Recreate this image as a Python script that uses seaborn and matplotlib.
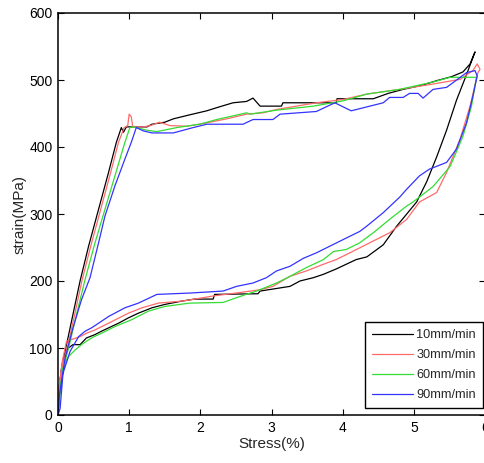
import numpy as np
import pandas as pd
import matplotlib
matplotlib.use("Agg")
import matplotlib.pyplot as plt
import seaborn as sns

series_names = ["10mm/min", "30mm/min", "60mm/min", "90mm/min"]
series_colors = ["#000000", "#ff6a6a", "#33dd33", "#3333ff"]

x_10 = [0, 0.01, 0.05, 0.12, 0.2, 0.31, 0.43, 0.57, 0.71, 0.82, 0.89, 0.92, 0.96, 1.25, 1.32, 1.50, 1.62, 1.85, 2.09, 2.27, 2.46, 2.65, 2.74, 2.84, 3.14, 3.16, 3.91, 3.92, 4.43, 4.64, 4.85, 5.11, 5.32, 5.53, 5.69, 5.79, 5.86,
        5.74, 5.60, 5.46, 5.32, 5.18, 5.04, 4.90, 4.76, 4.57, 4.34, 4.19, 4.05, 3.91, 3.73, 3.59, 3.40, 3.26, 2.84, 2.81, 2.20, 2.18, 1.92, 1.74, 1.50, 1.32, 1.13, 0.99, 0.85, 0.71, 0.61, 0.52, 0.40, 0.31, 0.21, 0.145, 0.07, 0.02, 0]
y_10 = [0, 35, 70, 105, 145, 200, 252, 307, 362, 407, 429, 422, 430, 430, 434, 437, 442, 448, 454, 460, 466, 468, 473, 461, 461, 466, 466, 472, 472, 480, 486, 492, 499, 505, 512, 524, 542,
        508, 470, 425, 385, 348, 318, 300, 282, 254, 236, 232, 225, 218, 210, 205, 200, 192, 185, 181, 180, 173, 173, 170, 165, 160, 152, 145, 137, 130, 125, 120, 115, 105, 105, 100, 82, 45, 0]

x_30 = [0, 0.01, 0.06, 0.14, 0.23, 0.34, 0.46, 0.60, 0.74, 0.85, 0.93, 0.98, 1.00, 1.03, 1.05, 1.20, 1.30, 1.43, 1.57, 1.81, 2.04, 2.37, 2.65, 2.88, 3.07, 3.63, 4.01, 4.34, 4.80, 5.27, 5.65, 5.83, 5.89, 5.93,
        5.90, 5.79, 5.65, 5.46, 5.32, 5.08, 4.90, 4.66, 4.38, 4.10, 3.91, 3.73, 3.49, 3.26, 3.02, 2.84, 2.50, 2.20, 1.92, 1.74, 1.41, 1.18, 0.99, 0.71, 0.52, 0.40, 0.31, 0.17, 0.12, 0.06, 0.02, 0]
y_30 = [0, 40, 72, 105, 148, 202, 252, 307, 362, 407, 429, 432, 449, 445, 430, 430, 432, 437, 432, 431, 435, 442, 449, 451, 456, 466, 471, 479, 486, 494, 501, 514, 524, 516,
        511, 461, 412, 362, 332, 318, 292, 272, 257, 242, 232, 225, 215, 207, 192, 187, 182, 178, 173, 170, 167, 160, 152, 137, 127, 122, 117, 112, 110, 80, 45, 0]

x_60 = [0, 0.02, 0.08, 0.16, 0.26, 0.38, 0.52, 0.66, 0.80, 0.94, 1.01, 1.06, 1.25, 1.39, 1.67, 1.99, 2.23, 2.65, 2.70, 3.07, 3.59, 4.01, 4.34, 4.80, 5.27, 5.51, 5.88,
        5.81, 5.69, 5.51, 5.27, 4.99, 4.90, 4.66, 4.43, 4.24, 4.05, 3.87, 3.73, 3.49, 3.26, 3.07, 2.79, 2.56, 2.32, 1.85, 1.50, 1.27, 1.03, 0.80, 0.61, 0.47, 0.33, 0.24, 0.145, 0.07, 0.03, 0]
y_60 = [0, 35, 72, 105, 150, 202, 257, 307, 357, 407, 429, 430, 425, 423, 429, 434, 441, 451, 449, 455, 461, 469, 479, 486, 497, 504, 504,
        461, 416, 371, 341, 318, 312, 292, 272, 257, 247, 244, 232, 220, 207, 197, 185, 177, 168, 167, 162, 155, 142, 132, 122, 115, 105, 97, 87, 70, 32, 0]

x_90 = [0, 0.02, 0.10, 0.21, 0.33, 0.45, 0.57, 0.66, 0.80, 0.94, 1.03, 1.10, 1.20, 1.32, 1.62, 1.90, 2.09, 2.60, 2.74, 3.02, 3.12, 3.63, 3.89, 4.12, 4.57, 4.66, 4.85, 4.94, 5.06, 5.13, 5.27, 5.46, 5.55, 5.74, 5.86, 5.89,
        5.83, 5.74, 5.60, 5.46, 5.22, 5.08, 4.90, 4.80, 4.57, 4.34, 4.24, 4.01, 3.82, 3.63, 3.45, 3.26, 3.07, 2.93, 2.74, 2.51, 2.32, 1.85, 1.39, 1.13, 0.94, 0.71, 0.57, 0.47, 0.38, 0.29, 0.17, 0.07, 0.03, 0]
y_90 = [0, 30, 85, 130, 172, 205, 257, 297, 342, 382, 407, 429, 424, 421, 421, 429, 434, 434, 441, 441, 449, 453, 466, 454, 466, 474, 474, 480, 480, 473, 486, 489, 496, 511, 514, 506,
        476, 436, 397, 377, 367, 357, 337, 325, 302, 282, 274, 262, 252, 242, 234, 222, 215, 205, 197, 192, 185, 182, 180, 167, 160, 147, 137, 130, 125, 117, 95, 62, 10, 0]

x_ticks = [0, 1, 2, 3, 4, 5, 6]
y_ticks = [0, 100, 200, 300, 400, 500, 600]

frames = []
for name, xs, ys in zip(series_names, [x_10, x_30, x_60, x_90], [y_10, y_30, y_60, y_90]):
    frames.append(pd.DataFrame({"stress": xs, "strain": ys, "rate": name, "idx": np.arange(len(xs))}))
df = pd.concat(frames, ignore_index=True)

sns.set_style("ticks")
plt.rcParams["font.family"] = ["Liberation Sans", "DejaVu Sans"]

fig = plt.figure(figsize=(4.84, 4.63), dpi=100)
ax = fig.add_axes([58 / 484, (463 - 415) / 463, (485 - 58) / 484, (415 - 13) / 463])

sns.lineplot(data=df, x="stress", y="strain", hue="rate", units="rate", estimator=None,
             sort=False, palette=dict(zip(series_names, series_colors)), linewidth=0.9,
             ax=ax, legend=False)

ax.set_xlim(0, 6)
ax.set_ylim(0, 600)
ax.set_xticks(x_ticks)
ax.set_yticks(y_ticks)
ax.tick_params(direction="in", length=4, width=0.8, top=True, right=True, labelsize=10, colors="black", pad=4)
for s in ax.spines.values():
    s.set_linewidth(1.1)
    s.set_color("black")
ax.set_xlabel("Stress(%)", fontsize=11, labelpad=2)
ax.set_ylabel("strain(MPa)", fontsize=11, labelpad=2)

handles = [plt.Line2D([0], [0], color=c, lw=0.9) for c in series_colors]
leg = fig.legend(handles, series_names, loc="lower right",
                 bbox_to_anchor=(483 / 484, (463 - 408) / 463), borderaxespad=0,
                 fontsize=9.2, handlelength=3.2, labelspacing=0.62, handletextpad=0.3,
                 fancybox=False, framealpha=1, edgecolor="black", borderpad=0.55)
leg.get_frame().set_linewidth(1.0)

fig.savefig("out.png", dpi=100)
